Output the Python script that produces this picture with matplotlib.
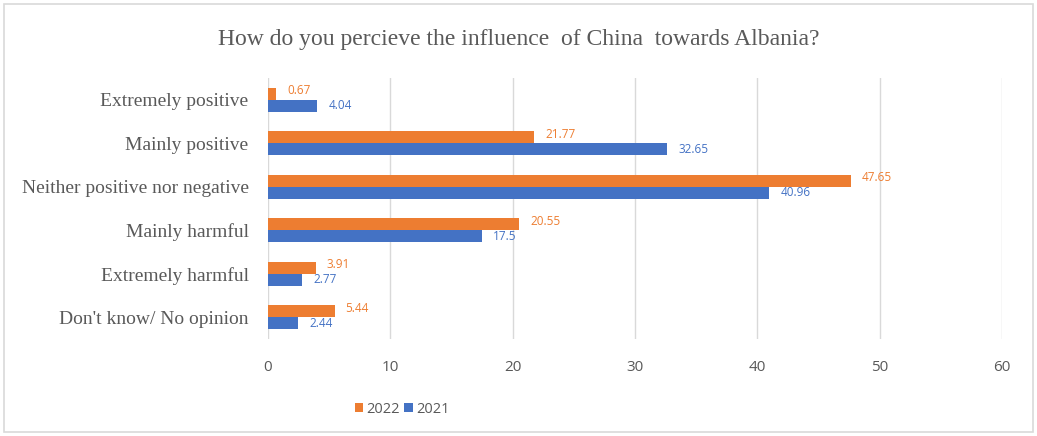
import matplotlib
matplotlib.use("Agg")
import matplotlib.pyplot as plt
from matplotlib.patches import Rectangle
import numpy as np

categories = ["Extremely positive", "Mainly positive", "Neither positive nor negative",
              "Mainly harmful", "Extremely harmful", "Don't know/ No opinion"]
values_2022 = [0.67, 21.77, 47.65, 20.55, 3.91, 5.44]
values_2021 = [4.04, 32.65, 40.96, 17.5, 2.77, 2.44]
labels_2022 = ["0.67", "21.77", "47.65", "20.55", "3.91", "5.44"]
labels_2021 = ["4.04", "32.65", "40.96", "17.5", "2.77", "2.44"]
xticks = [0, 10, 20, 30, 40, 50, 60]

orange = "#ED7D31"
blue = "#4472C4"
gray_txt = "#595959"

fig = plt.figure(figsize=(10.37, 4.36), dpi=100)
fig.patches.append(Rectangle((4/1037, 4/436), 1029/1037, 428/436, transform=fig.transFigure,
                             fill=False, edgecolor="#D9D9D9", linewidth=1.2))
ax = fig.add_axes([268/1037, 1 - 339/436, 734/1037, 261/436])

y = np.arange(len(categories))
h = 0.275
ax.barh(y - h/2, values_2022, height=h, color=orange, label="2022", zorder=3)
ax.barh(y + h/2, values_2021, height=h, color=blue, label="2021", zorder=3)

for yi, v, t in zip(y, values_2022, labels_2022):
    ax.annotate(t, (v, yi - h/2), xytext=(8, 2), textcoords="offset points",
                ha="left", va="center", fontsize=8.5, color=orange, family="Open Sans")
for yi, v, t in zip(y, values_2021, labels_2021):
    ax.annotate(t, (v, yi + h/2), xytext=(8, 0), textcoords="offset points",
                ha="left", va="center", fontsize=8.5, color=blue, family="Open Sans")

ax.set_ylim(len(categories) - 0.5, -0.5)
ax.set_xlim(0, 60)
ax.set_xticks(xticks)
ax.set_xticklabels([str(t) for t in xticks], fontsize=11, color=gray_txt, family="Open Sans")
ax.set_yticks(y)
ax.set_yticklabels(categories, fontsize=14, color=gray_txt, family="Liberation Serif")
ax.tick_params(axis="y", length=0, pad=14)
ax.tick_params(axis="x", length=0, pad=15)
ax.grid(axis="x", color="#D9D9D9", linewidth=1, zorder=0)
for s in ["top", "right", "bottom", "left"]:
    ax.spines[s].set_visible(False)

fig.text(0.5, 1 - 40/436, "How do you percieve the influence  of China  towards Albania?",
         ha="center", va="center", fontsize=17, color=gray_txt, family="Liberation Serif")

leg = fig.legend(loc="center", bbox_to_anchor=(402/1037, 1 - 409/436), ncol=2, frameon=False,
                 prop={"family": "Open Sans", "size": 10.5}, handlelength=0.6, handleheight=0.6,
                 handletextpad=0.2, columnspacing=0.3)
for t in leg.get_texts():
    t.set_color(gray_txt)

fig.savefig("out.png", dpi=100)
